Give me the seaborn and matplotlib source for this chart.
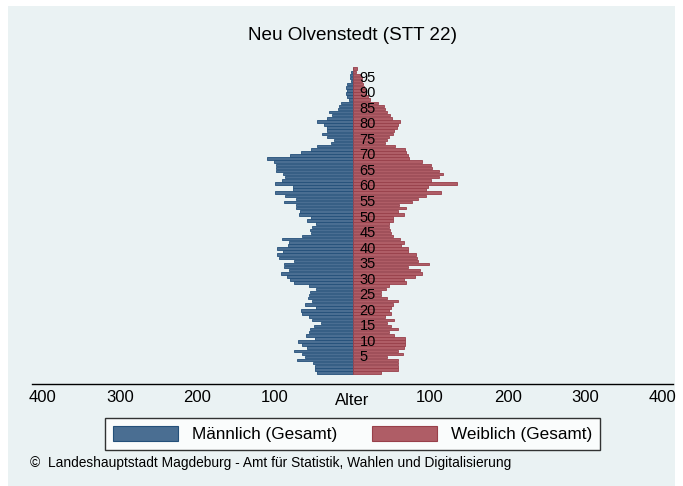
import matplotlib
matplotlib.use("Agg")
import matplotlib.pyplot as plt
import matplotlib.transforms as mtransforms
from matplotlib.patches import Patch, Rectangle
import pandas as pd
import seaborn as sns

# Population of Neu Olvenstedt by single year of age (0 .. 98)
ages = list(range(0, 99))
maennlich = [
    46, 48, 48, 51, 72, 61, 65, 75, 58, 65,
    70, 48, 60, 56, 55, 49, 40, 52, 56, 65,
    67, 47, 61, 52, 57, 56, 55, 47, 56, 75,
    80, 84, 92, 82, 88, 88, 75, 95, 97, 90,
    97, 83, 82, 91, 65, 54, 55, 52, 47, 59,
    54, 69, 68, 73, 73, 88, 73, 87, 100, 77,
    77, 100, 91, 87, 90, 99, 99, 98, 101, 110,
    80, 66, 54, 46, 28, 24, 33, 39, 33, 33,
    37, 46, 33, 26, 30, 19, 18, 15, 5, 7,
    9, 7, 8, 7, 2, 3, 3, 2, 0,
]
weiblich = [
    37, 58, 59, 58, 58, 45, 65, 59, 67, 68,
    68, 68, 54, 47, 58, 50, 45, 54, 42, 49,
    47, 49, 52, 58, 44, 37, 37, 43, 47, 69,
    67, 80, 90, 87, 71, 99, 84, 83, 82, 71,
    72, 62, 67, 61, 52, 49, 48, 47, 47, 52,
    52, 67, 58, 69, 60, 77, 84, 95, 114, 95,
    97, 135, 101, 112, 116, 112, 103, 101, 90, 73,
    71, 69, 68, 55, 42, 45, 47, 52, 54, 57,
    58, 61, 51, 48, 44, 42, 41, 33, 23, 20,
    18, 17, 15, 14, 12, 12, 10, 4, 6,
]
x_ticks = [-400, -300, -200, -100, 100, 200, 300, 400]
x_tick_labels = ["400", "300", "200", "100", "100", "200", "300", "400"]
age_labels = list(range(5, 100, 5))

title = "Neu Olvenstedt (STT 22)"
legend_labels = ["Männlich (Gesamt)", "Weiblich (Gesamt)"]
footer = "©  Landeshauptstadt Magdeburg - Amt für Statistik, Wahlen und Digitalisierung"

df = pd.DataFrame({
    "Alter": ages,
    "Maennlich": [-v for v in maennlich],
    "Weiblich": weiblich,
})

sns.set_style("white")
plt.rcParams["font.family"] = ["Liberation Sans", "DejaVu Sans"]
plt.rcParams["text.color"] = "black"
plt.rcParams["xtick.color"] = "black"
plt.rcParams["xtick.labelcolor"] = "black"

BG = "#EAF2F3"
BLUE_FILL, BLUE_EDGE = "#4A6E92", "#24507A"
RED_FILL, RED_EDGE = "#AF5D66", "#98404A"

W, H = 683, 486
fig = plt.figure(figsize=(W / 100, H / 100), dpi=100, facecolor="white")
fig.patches.append(Rectangle((8 / W, 0), 1 - 16 / W, 1 - 6 / H,
                             transform=fig.transFigure, facecolor=BG,
                             edgecolor="none", zorder=-10))

ax = fig.add_axes([32 / W, 1 - 384 / H, (673 - 32) / W, (384 - 60) / H])
ax.set_facecolor(BG)
ax.patch.set_alpha(0)

sns.barplot(data=df, x="Maennlich", y="Alter", orient="y", native_scale=True,
            color=BLUE_FILL, saturation=1, width=0.82, errorbar=None,
            edgecolor=BLUE_EDGE, linewidth=0.6, ax=ax)
sns.barplot(data=df, x="Weiblich", y="Alter", orient="y", native_scale=True,
            color=RED_FILL, saturation=1, width=0.82, errorbar=None,
            edgecolor=RED_EDGE, linewidth=0.6, ax=ax)

ax.set_xlim(-413, 413)
ax.set_ylim(-3.7, 100.8)
ax.set_xlabel("")
ax.set_ylabel("")
ax.set_yticks([])
ax.set_xticks(x_ticks)
ax.set_xticklabels(x_tick_labels, fontsize=12, color="black")
ax.tick_params(axis="x", length=0, pad=4, colors="black")
for side in ["top", "left", "right"]:
    ax.spines[side].set_visible(False)
ax.spines["bottom"].set_color("black")
ax.spines["bottom"].set_linewidth(1.0)

trans = mtransforms.blended_transform_factory(ax.transData, ax.transAxes)
ax.text(0, -0.028, "Alter", transform=trans, ha="center", va="top",
        fontsize=12, color="black")

for a in age_labels:
    ax.text(9, a, str(a), ha="left", va="center", fontsize=10.5, color="black")

fig.text(352 / W, 1 - 35 / H, title, ha="center", va="center",
         fontsize=13.6, color="black")

handles = [Patch(facecolor=BLUE_FILL, edgecolor=BLUE_EDGE, linewidth=0.8),
           Patch(facecolor=RED_FILL, edgecolor=RED_EDGE, linewidth=0.8)]
leg = fig.legend(handles, legend_labels, ncol=2, loc="center",
                 bbox_to_anchor=(352.5 / W, 1 - 434 / H), fontsize=12.3,
                 frameon=True, fancybox=False, edgecolor="black",
                 handlelength=3.8, handleheight=1.05, handletextpad=0.85,
                 columnspacing=2.0, borderpad=0.45, labelcolor="black")
leg.get_frame().set_linewidth(1.0)
leg.get_frame().set_facecolor("white")

fig.text(30 / W, 1 - 463 / H, footer, ha="left", va="center", fontsize=9.9,
         color="black")

fig.savefig("out.png", dpi=100, facecolor=fig.get_facecolor())
